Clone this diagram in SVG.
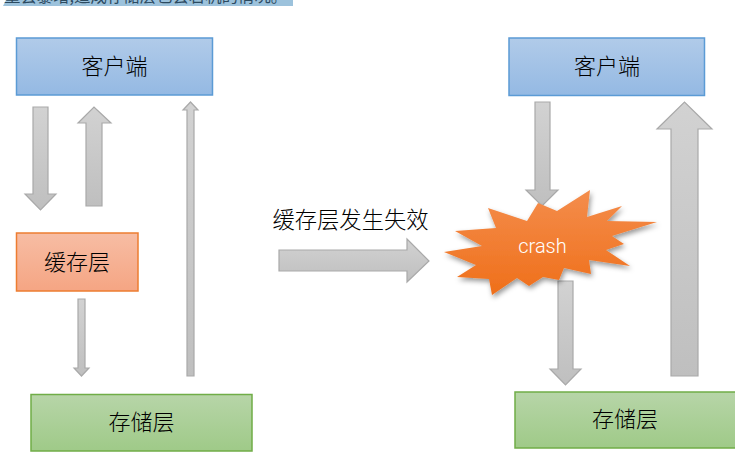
<svg xmlns="http://www.w3.org/2000/svg" width="735" height="475" viewBox="0 0 735 475">
<style>
text{font-family:"Noto Sans CJK SC","Noto Sans",sans-serif;fill:#000;text-anchor:middle;font-size:22px;font-weight:300}
.box{stroke-width:1.5}
.blue{fill:url(#gb);stroke:#5b9bd5}
.orange{fill:url(#go);stroke:#ed7d31}
.green{fill:url(#gg);stroke:#70ad47}
.arrow{fill:url(#ga);stroke:#a9a9a9;stroke-width:1.2}
</style>
<defs>
<linearGradient id="gb" x1="0" y1="0" x2="0" y2="1"><stop offset="0" stop-color="#b1cbe9"/><stop offset="1" stop-color="#94b9e3"/></linearGradient>
<linearGradient id="go" x1="0" y1="0" x2="0" y2="1"><stop offset="0" stop-color="#f7bda4"/><stop offset="1" stop-color="#f5a583"/></linearGradient>
<linearGradient id="gg" x1="0" y1="0" x2="0" y2="1"><stop offset="0" stop-color="#b7d5a8"/><stop offset="1" stop-color="#9fca88"/></linearGradient>
<linearGradient id="ga" x1="0" y1="0" x2="0" y2="1"><stop offset="0" stop-color="#d2d2d2"/><stop offset="1" stop-color="#bfbfbf"/></linearGradient>
<linearGradient id="gs" x1="0" y1="0" x2="0" y2="1"><stop offset="0" stop-color="#f48d4c"/><stop offset="1" stop-color="#ef6f1a"/></linearGradient>
<filter id="sh" x="-10%" y="-10%" width="125%" height="130%"><feDropShadow dx="1.500" dy="3" stdDeviation="2.500" flood-color="#000" flood-opacity="0.4"/></filter>
</defs>
<g id="header">
<path d="M6 0H293V6H3Z" fill="#9cc2dc"/>
<text x="4" y="2" style="text-anchor:start;font-size:16.400px;fill:#2c4a60;font-weight:400">量会暴增,造成存储层也会宕机的情况。</text>
</g>
<g id="connectors">
<path class="arrow" d="M33 107H48V194H56L40.500 210L25 194H33Z"/>
<path class="arrow" d="M86 206H102V123H111L94 107L78 123H86Z"/>
<path class="arrow" d="M187 376H194V110H198L190.500 102L183 110H187Z"/>
<path class="arrow" d="M78 299H85V368H89L81.500 376L74 368H78Z"/>
<path class="arrow" d="M279 250H407V239L429 261L407 282V271H279Z"/>
<path class="arrow" d="M535 102H550V190H558L542 206L526 190H535Z"/>
<path class="arrow" d="M671 376H698V129H712L684.500 102L657 129H671Z"/>
<path class="arrow" d="M558 281H573V369H581L565.500 385L550 369H558Z"/>
</g>
<g id="client-left"><rect class="box blue" x="16.500" y="38" width="196" height="57"/><text x="114.500" y="74">客户端</text></g>
<g id="cache"><rect class="box orange" x="16.500" y="233" width="121.500" height="58"/><text x="77" y="270">缓存层</text></g>
<g id="storage-left"><rect class="box green" x="31" y="394.500" width="221" height="56.500"/><text x="141.500" y="430">存储层</text></g>
<g id="failure-label"><text x="350.500" y="228" style="font-size:22.300px">缓存层发生失效</text></g>
<g id="crash">
<polygon filter="url(#sh)" fill="url(#gs)" points="538,203 557,211 590,190 587,217 622,206 607,221 657,222 612,236 624,244 606,250 630,266 589,260 591,274 564,268 559,280 543,277 529,286 517,278 492,295 489,279 457,277 476,265 444,252 482,246 455,231 496,228 488,208 527,221"/>
<text x="542.500" y="252.500" style="font-family:Roboto,'Liberation Sans',sans-serif;font-size:20px;fill:#fff">crash</text>
</g>
<g id="client-right"><rect class="box blue" x="509" y="38" width="195.500" height="57.500"/><text x="607" y="74">客户端</text></g>
<g id="storage-right"><rect class="box green" x="515" y="392" width="225" height="56"/><text x="625" y="427">存储层</text></g>
</svg>
